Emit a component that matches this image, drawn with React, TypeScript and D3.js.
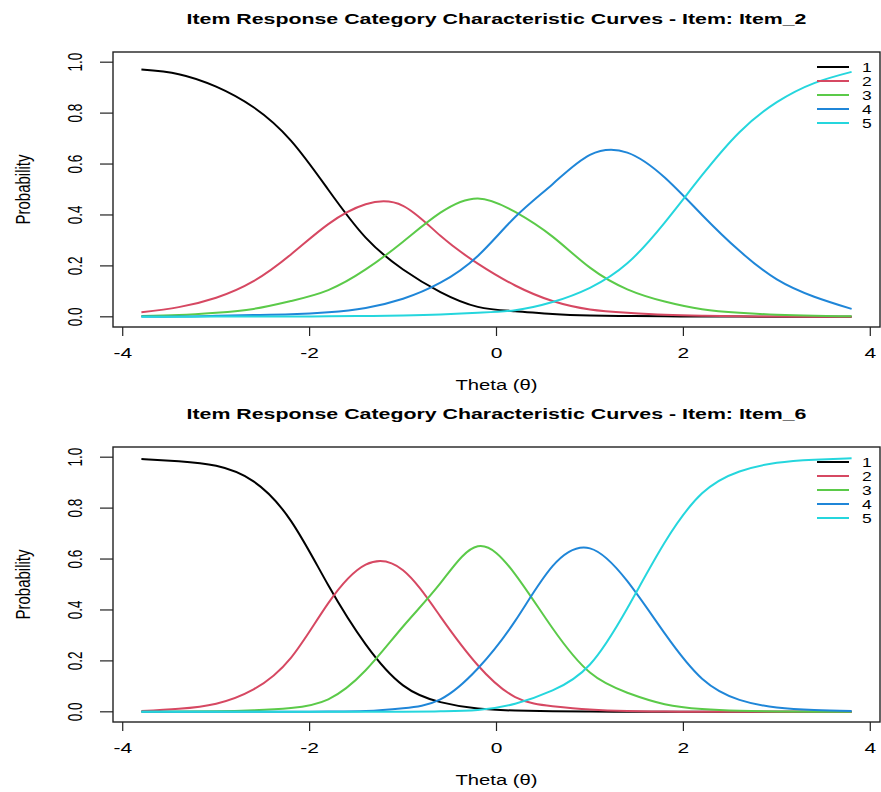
import React from "react";
import * as d3 from "d3";

// theta grid the curves were read at
const theta = [-3.8, -3.4, -3.0, -2.6, -2.2, -1.8, -1.4, -1.0, -0.6, -0.2, 0.2, 0.6, 1.0, 1.4, 1.8, 2.2, 2.6, 3.0, 3.4, 3.8];

// Item_2 category probabilities
const item2Cat1 = [0.971, 0.953, 0.904, 0.823, 0.692, 0.499, 0.311, 0.186, 0.097, 0.039, 0.022, 0.011, 0.005, 0.003, 0.002, 0.001, 0.001, 0.0, 0.0, 0.0];
const item2Cat2 = [0.018, 0.038, 0.075, 0.14, 0.245, 0.364, 0.442, 0.436, 0.318, 0.209, 0.123, 0.062, 0.029, 0.016, 0.008, 0.004, 0.002, 0.001, 0.0, 0.0];
const item2Cat3 = [0.003, 0.007, 0.016, 0.031, 0.062, 0.105, 0.186, 0.295, 0.409, 0.465, 0.412, 0.315, 0.193, 0.108, 0.06, 0.03, 0.016, 0.008, 0.004, 0.002];
const item2Cat4 = [0.001, 0.001, 0.004, 0.007, 0.01, 0.018, 0.035, 0.071, 0.134, 0.239, 0.392, 0.521, 0.636, 0.645, 0.547, 0.4, 0.259, 0.147, 0.079, 0.031];
const item2Cat5 = [0.0, 0.0, 0.001, 0.001, 0.001, 0.002, 0.003, 0.005, 0.009, 0.016, 0.026, 0.058, 0.114, 0.21, 0.37, 0.556, 0.725, 0.843, 0.918, 0.962];

// Item_6 category probabilities
const item6Cat1 = [0.993, 0.984, 0.966, 0.905, 0.75, 0.497, 0.265, 0.104, 0.038, 0.013, 0.005, 0.002, 0.001, 0.0, 0.0, 0.0, 0.0, 0.0, 0.0, 0.0];
const item6Cat2 = [0.003, 0.012, 0.032, 0.088, 0.212, 0.427, 0.578, 0.556, 0.374, 0.183, 0.058, 0.022, 0.009, 0.003, 0.001, 0.0, 0.0, 0.0, 0.0, 0.0];
const item6Cat3 = [0.0, 0.001, 0.002, 0.006, 0.015, 0.049, 0.163, 0.335, 0.505, 0.65, 0.54, 0.328, 0.154, 0.075, 0.03, 0.011, 0.004, 0.001, 0.0, 0.0];
const item6Cat4 = [0.0, 0.0, 0.0, 0.0, 0.0, 0.001, 0.003, 0.014, 0.049, 0.17, 0.357, 0.572, 0.642, 0.513, 0.308, 0.13, 0.047, 0.017, 0.007, 0.003];
const item6Cat5 = [0.0, 0.0, 0.0, 0.0, 0.0, 0.0, 0.0, 0.0, 0.002, 0.007, 0.032, 0.084, 0.186, 0.407, 0.665, 0.858, 0.944, 0.978, 0.99, 0.996];

const categories = ["1", "2", "3", "4", "5"];
const colors = ["#000000", "#D64862", "#5BCA49", "#1F86D8", "#25D6DD"];
const xTicks = [-4, -2, 0, 2, 4];
const yTicks = [0, 0.2, 0.4, 0.6, 0.8, 1.0];

const FONT = "'Liberation Sans', Arial, Helvetica, sans-serif";
const BOX_H = 275;

type PanelProps = { top: number; title: string; series: number[][] };

const Panel = ({ top, title, series }: PanelProps) => {
  const bottom = top + BOX_H;
  const x = d3.scaleLinear().domain([-4.104, 4.104]).range([113, 880]);
  const y = d3.scaleLinear().domain([-0.04, 1.04]).range([bottom, top]);
  const line = d3
    .line<number>()
    .x((_, i) => x(theta[i]))
    .y((d) => y(d))
    .curve(d3.curveNatural);

  const midX = (x.range()[0] + x.range()[1]) / 2;

  return (
    <g>
      {/* title */}
      <text x={midX} y={top - 28} textAnchor="middle" fontFamily={FONT} fontWeight="bold"
        fontSize={15.5} textLength={620} lengthAdjust="spacingAndGlyphs" fill="#000">
        {title}
      </text>

      {/* curves */}
      {series.map((s, k) => (
        <path key={k} d={line(s) || ""} fill="none" stroke={colors[k]} strokeWidth={2} strokeLinejoin="round" />
      ))}

      {/* box */}
      <rect x={113} y={top} width={767} height={BOX_H} fill="none" stroke="#222" strokeWidth={1.4} />

      {/* x axis */}
      {xTicks.map((t) => (
        <g key={t}>
          <line x1={x(t)} x2={x(t)} y1={bottom} y2={bottom + 9} stroke="#222" strokeWidth={1.2} />
          <text transform={`translate(${x(t)},${bottom + 31}) scale(1.5,1)`} textAnchor="middle"
            fontFamily={FONT} fontSize={14} fill="#000">
            {t < 0 ? `-${Math.abs(t)}` : `${t}`}
          </text>
        </g>
      ))}
      <text transform={`translate(${midX},${bottom + 63}) scale(1.35,1)`} textAnchor="middle"
        fontFamily={FONT} fontSize={15} fill="#000">
        Theta (θ)
      </text>

      {/* y axis */}
      {yTicks.map((t) => (
        <g key={t}>
          <line x1={100} x2={113} y1={y(t)} y2={y(t)} stroke="#222" strokeWidth={1.2} />
          <text transform={`translate(82,${y(t)}) scale(1.55,1) rotate(-90)`} textAnchor="middle"
            fontFamily={FONT} fontSize={13.5} fill="#000">
            {t.toFixed(1)}
          </text>
        </g>
      ))}
      <text transform={`translate(30,${(top + bottom) / 2}) scale(1.35,1) rotate(-90)`} textAnchor="middle"
        fontFamily={FONT} fontSize={15} fill="#000">
        Probability
      </text>

      {/* legend */}
      {categories.map((c, k) => {
        const ly = top + 15 + k * 14;
        return (
          <g key={c}>
            <line x1={817} x2={849} y1={ly} y2={ly} stroke={colors[k]} strokeWidth={2} />
            <text transform={`translate(862,${ly + 4.5}) scale(1.4,1)`} fontFamily={FONT} fontSize={12.5} fill="#000">
              {c}
            </text>
          </g>
        );
      })}
    </g>
  );
};

const App = () => {
  return (
    <svg width={881} height={792} style={{ position: "absolute", left: 0, top: 0, background: "#fff" }}>
      <rect width={881} height={792} fill="#fff" />
      <Panel
        top={52}
        title="Item Response Category Characteristic Curves - Item: Item_2"
        series={[item2Cat1, item2Cat2, item2Cat3, item2Cat4, item2Cat5]}
      />
      <Panel
        top={447}
        title="Item Response Category Characteristic Curves - Item: Item_6"
        series={[item6Cat1, item6Cat2, item6Cat3, item6Cat4, item6Cat5]}
      />
    </svg>
  );
};

export default App;
